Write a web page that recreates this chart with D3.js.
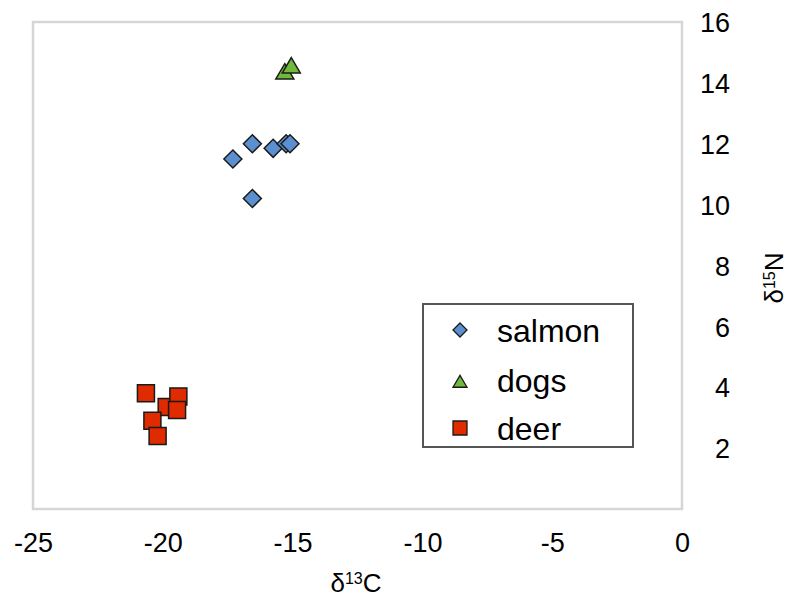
<!DOCTYPE html>
<html>
<head>
<meta charset="utf-8">
<script src="https://cdn.jsdelivr.net/npm/d3@7/dist/d3.min.js"></script>
<style>
html,body{margin:0;padding:0;background:#fff;}
svg{display:block;font-family:"Liberation Sans",Arial,Helvetica,sans-serif;}
</style>
</head>
<body>
<svg id="chart" width="789" height="599"></svg>
<script>
const salmonX = [-17.3, -16.55, -16.55, -15.75, -15.25, -15.1];
const salmonY = [11.5, 12.0, 10.2, 11.85, 12.0, 12.0];
const dogsX = [-15.3, -15.05];
const dogsY = [14.35, 14.55];
const deerX = [-20.65, -19.85, -19.4, -19.45, -20.4, -20.2];
const deerY = [3.8, 3.35, 3.7, 3.25, 2.9, 2.4];
const xTicks = [-25, -20, -15, -10, -5, 0];
const yTicks = [2, 4, 6, 8, 10, 12, 14, 16];
const seriesNames = ["salmon", "dogs", "deer"];
const seriesColors = ["#5b8fd0", "#6fba3a", "#e02a00"];

const svg = d3.select("#chart");
const pLeft = 33, pRight = 682, pTop = 22, pBottom = 509;
const x = d3.scaleLinear().domain([-25, 0]).range([pLeft, pRight]);
const y = d3.scaleLinear().domain([0, 16]).range([pBottom, pTop]);

svg.append("rect").attr("x", pLeft).attr("y", pTop)
  .attr("width", pRight - pLeft).attr("height", pBottom - pTop)
  .attr("fill", "#fff").attr("stroke", "#d6d6d6").attr("stroke-width", 2.5);

const fmt = d => String(d);
const xAxis = svg.append("g").attr("transform", `translate(0,${pBottom})`)
  .call(d3.axisBottom(x).tickValues(xTicks).tickSize(0).tickPadding(0).tickFormat(fmt));
xAxis.select(".domain").remove();
xAxis.selectAll("text").attr("dy", null).attr("y", 43)
  .attr("font-size", 27).attr("fill", "#000").attr("font-family", null);

const yAxis = svg.append("g").attr("transform", `translate(${pRight},0)`)
  .call(d3.axisRight(y).tickValues(yTicks).tickSize(0).tickPadding(0).tickFormat(fmt));
yAxis.select(".domain").remove();
yAxis.selectAll("text").attr("x", 48).attr("text-anchor", "end").attr("dy", "0.36em")
  .attr("font-size", 27).attr("fill", "#000").attr("font-family", null);

// axis titles
const xt = svg.append("text").attr("x", 356).attr("y", 592).attr("text-anchor", "middle")
  .attr("font-size", 26).attr("fill", "#000");
xt.append("tspan").text("δ");
xt.append("tspan").attr("font-size", 16).attr("dy", -8).text("13");
xt.append("tspan").attr("dy", 8).text("C");

const yt = svg.append("text").attr("transform", "translate(783,278) rotate(-90)")
  .attr("text-anchor", "middle").attr("font-size", 26).attr("fill", "#000");
yt.append("tspan").text("δ");
yt.append("tspan").attr("font-size", 16).attr("dy", -8).text("15");
yt.append("tspan").attr("dy", 8).text("N");

function diamond(s){ return `M0,${-s}L${s},0L0,${s}L${-s},0Z`; }
function triangle(s){ return `M0,${-s*0.95}L${s},${s*0.75}L${-s},${s*0.75}Z`; }
function square(s){ return `M${-s},${-s}H${s}V${s}H${-s}Z`; }
const shapes = [diamond, triangle, square];

const series = [
  {xs: salmonX, ys: salmonY},
  {xs: dogsX, ys: dogsY},
  {xs: deerX, ys: deerY}
];
const sizes = [9, 9, 8.5];

series.forEach((s, i) => {
  const pts = s.xs.map((v, j) => [v, s.ys[j]]);
  svg.append("g").selectAll("path").data(pts).join("path")
    .attr("d", shapes[i](sizes[i]))
    .attr("transform", d => `translate(${x(d[0])},${y(d[1])})`)
    .attr("fill", seriesColors[i]).attr("stroke", "#1a1a1a").attr("stroke-width", 1.5);
});

// legend
const lg = svg.append("g");
lg.append("rect").attr("x", 423).attr("y", 304).attr("width", 210).attr("height", 143)
  .attr("fill", "#fff").attr("stroke", "#555").attr("stroke-width", 2);
const rowsY = [330, 380, 428];
seriesNames.forEach((n, i) => {
  lg.append("path").attr("d", shapes[i](7))
    .attr("transform", `translate(460,${rowsY[i] + (i===1?2:0)})`)
    .attr("fill", seriesColors[i]).attr("stroke", "#1a1a1a").attr("stroke-width", 1.3);
  lg.append("text").attr("x", 497).attr("y", rowsY[i]).attr("dy", "0.36em")
    .attr("font-size", 32).attr("fill", "#000").text(n);
});
</script>
</body>
</html>
